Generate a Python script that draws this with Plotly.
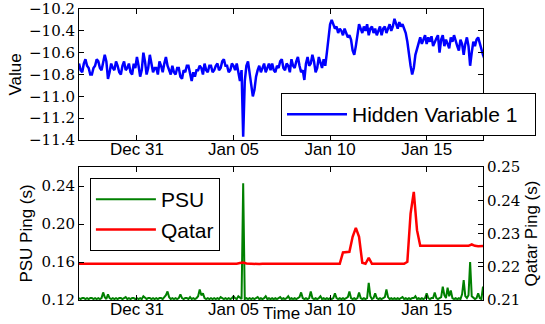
import pandas as pd
import plotly.graph_objects as go

# Hidden variable, two-hourly from Dec 28 00:00 (12 samples per day)
hidden_var_1 = [
    -10.70, -10.76, -10.78, -10.70, -10.66, -10.72, -10.74, -10.80, -10.80, -10.74, -10.72, -10.66,  # Dec 28
    -10.68, -10.74, -10.76, -10.70, -10.62, -10.68, -10.84, -10.78, -10.70, -10.74, -10.76, -10.68,  # Dec 29
    -10.72, -10.78, -10.80, -10.72, -10.68, -10.76, -10.74, -10.70, -10.78, -10.80, -10.70, -10.74,  # Dec 30
    -10.64, -10.72, -10.82, -10.76, -10.60, -10.68, -10.80, -10.74, -10.62, -10.70, -10.78, -10.74,  # Dec 31
    -10.74, -10.80, -10.68, -10.72, -10.78, -10.70, -10.64, -10.72, -10.76, -10.80, -10.72, -10.78,  # Jan 01
    -10.80, -10.74, -10.74, -10.82, -10.84, -10.76, -10.78, -10.72, -10.72, -10.80, -10.86, -10.78,  # Jan 02
    -10.82, -10.76, -10.76, -10.72, -10.74, -10.80, -10.70, -10.76, -10.78, -10.72, -10.72, -10.78,  # Jan 03
    -10.76, -10.72, -10.70, -10.76, -10.74, -10.68, -10.66, -10.72, -10.72, -10.78, -10.76, -10.70,  # Jan 04
    -10.72, -10.76, -10.70, -10.78, -10.86, -10.76, -11.37, -10.86, -10.72, -10.68, -10.78, -10.90,  # Jan 05
    -11.00, -10.94, -10.82, -10.76, -10.72, -10.78, -10.74, -10.70, -10.78, -10.74, -10.70, -10.76,  # Jan 06
    -10.70, -10.76, -10.78, -10.72, -10.74, -10.68, -10.66, -10.74, -10.76, -10.70, -10.72, -10.78,  # Jan 07
    -10.66, -10.72, -10.74, -10.68, -10.64, -10.72, -10.78, -10.76, -10.85, -10.70, -10.64, -10.72,  # Jan 08
    -10.70, -10.62, -10.68, -10.78, -10.74, -10.64, -10.70, -10.74, -10.66, -10.72, -10.60, -10.45,  # Jan 09
    -10.34, -10.30, -10.34, -10.38, -10.36, -10.42, -10.38, -10.40, -10.44, -10.38, -10.42, -10.46,  # Jan 10
    -10.44, -10.48, -10.58, -10.62, -10.54, -10.44, -10.34, -10.38, -10.42, -10.36, -10.40, -10.34,  # Jan 11
    -10.44, -10.38, -10.36, -10.42, -10.38, -10.44, -10.40, -10.36, -10.44, -10.38, -10.36, -10.42,  # Jan 12
    -10.38, -10.34, -10.40, -10.36, -10.29, -10.34, -10.38, -10.32, -10.36, -10.34, -10.38, -10.42,  # Jan 13
    -10.50, -10.62, -10.72, -10.80, -10.74, -10.62, -10.56, -10.50, -10.46, -10.52, -10.48, -10.44,  # Jan 14
    -10.52, -10.46, -10.50, -10.45, -10.54, -10.50, -10.47, -10.44, -10.60, -10.48, -10.44, -10.54,  # Jan 15
    -10.48, -10.52, -10.56, -10.46, -10.50, -10.44, -10.50, -10.54, -10.58, -10.48, -10.52, -10.62,  # Jan 16
    -10.52, -10.46, -10.54, -10.72, -10.60, -10.50, -10.54, -10.48, -10.46, -10.52, -10.56, -10.62,  # Jan 17
    -10.66,
]

# PSU round-trip time (s), two-hourly
psu_ping = [
    0.122, 0.121, 0.122, 0.122, 0.121, 0.122, 0.121, 0.122, 0.122, 0.121, 0.122, 0.121,  # Dec 28
    0.122, 0.121, 0.122, 0.128, 0.123, 0.121, 0.126, 0.122, 0.121, 0.122, 0.121, 0.122,  # Dec 29
    0.121, 0.122, 0.122, 0.121, 0.122, 0.123, 0.121, 0.122, 0.121, 0.122, 0.122, 0.121,  # Dec 30
    0.122, 0.121, 0.122, 0.121, 0.124, 0.122, 0.121, 0.122, 0.122, 0.121, 0.122, 0.121,  # Dec 31
    0.122, 0.121, 0.122, 0.122, 0.121, 0.123, 0.125, 0.129, 0.123, 0.121, 0.122, 0.121,  # Jan 01
    0.122, 0.121, 0.122, 0.126, 0.122, 0.121, 0.122, 0.122, 0.121, 0.123, 0.121, 0.122,  # Jan 02
    0.121, 0.122, 0.124, 0.131, 0.125, 0.127, 0.122, 0.121, 0.122, 0.121, 0.122, 0.121,  # Jan 03
    0.122, 0.121, 0.122, 0.121, 0.123, 0.122, 0.121, 0.122, 0.121, 0.122, 0.121, 0.122,  # Jan 04
    0.124, 0.122, 0.121, 0.124, 0.122, 0.121, 0.243, 0.121, 0.122, 0.121, 0.122, 0.121,  # Jan 05
    0.122, 0.121, 0.122, 0.123, 0.121, 0.122, 0.121, 0.122, 0.124, 0.121, 0.122, 0.121,  # Jan 06
    0.122, 0.121, 0.122, 0.121, 0.122, 0.123, 0.121, 0.122, 0.121, 0.122, 0.124, 0.121,  # Jan 07
    0.122, 0.121, 0.122, 0.121, 0.122, 0.123, 0.128, 0.122, 0.121, 0.122, 0.121, 0.122,  # Jan 08
    0.129, 0.122, 0.121, 0.122, 0.121, 0.122, 0.124, 0.121, 0.122, 0.121, 0.122, 0.121,  # Jan 09
    0.122, 0.121, 0.122, 0.127, 0.122, 0.121, 0.122, 0.121, 0.122, 0.121, 0.122, 0.123,  # Jan 10
    0.129, 0.122, 0.121, 0.122, 0.121, 0.122, 0.128, 0.122, 0.121, 0.122, 0.121, 0.122,  # Jan 11
    0.138, 0.124, 0.121, 0.122, 0.127, 0.122, 0.121, 0.122, 0.121, 0.122, 0.123, 0.131,  # Jan 12
    0.123, 0.121, 0.122, 0.121, 0.122, 0.121, 0.122, 0.121, 0.122, 0.123, 0.121, 0.122,  # Jan 13
    0.121, 0.122, 0.121, 0.122, 0.122, 0.124, 0.121, 0.122, 0.121, 0.122, 0.121, 0.122,  # Jan 14
    0.127, 0.122, 0.121, 0.122, 0.122, 0.128, 0.122, 0.121, 0.122, 0.123, 0.134, 0.125,  # Jan 15
    0.122, 0.133, 0.124, 0.130, 0.122, 0.121, 0.122, 0.121, 0.122, 0.121, 0.126, 0.141,  # Jan 16
    0.124, 0.122, 0.125, 0.160, 0.124, 0.122, 0.121, 0.122, 0.127, 0.122, 0.121, 0.134,  # Jan 17
    0.128,
]

# Qatar round-trip time (s), four-hourly (6 samples per day)
qatar_ping = [
    0.2209, 0.2208, 0.2209, 0.2209, 0.2208, 0.2209,  # Dec 28
    0.2209, 0.2209, 0.2208, 0.2209, 0.2209, 0.2209,  # Dec 29
    0.2208, 0.2209, 0.2209, 0.2209, 0.2208, 0.2209,  # Dec 30
    0.2209, 0.2209, 0.2208, 0.2209, 0.2209, 0.2210,  # Dec 31
    0.2209, 0.2209, 0.2208, 0.2209, 0.2209, 0.2209,  # Jan 01
    0.2209, 0.2208, 0.2209, 0.2209, 0.2209, 0.2208,  # Jan 02
    0.2209, 0.2209, 0.2209, 0.2208, 0.2209, 0.2209,  # Jan 03
    0.2209, 0.2208, 0.2209, 0.2209, 0.2209, 0.2209,  # Jan 04
    0.2209, 0.2209, 0.2211, 0.2213, 0.2210, 0.2209,  # Jan 05
    0.2209, 0.2209, 0.2208, 0.2209, 0.2209, 0.2209,  # Jan 06
    0.2209, 0.2208, 0.2209, 0.2209, 0.2209, 0.2209,  # Jan 07
    0.2208, 0.2209, 0.2209, 0.2209, 0.2208, 0.2209,  # Jan 08
    0.2209, 0.2209, 0.2208, 0.2209, 0.2209, 0.2209,  # Jan 09
    0.2209, 0.2209, 0.2208, 0.2209, 0.2243, 0.2243,  # Jan 10
    0.2245, 0.2290, 0.2317, 0.2290, 0.2212, 0.2209,  # Jan 11
    0.2227, 0.2209, 0.2209, 0.2208, 0.2209, 0.2209,  # Jan 12
    0.2209, 0.2209, 0.2208, 0.2209, 0.2209, 0.2209,  # Jan 13
    0.2215, 0.2360, 0.2425, 0.2310, 0.2263, 0.2263,  # Jan 14
    0.2262, 0.2263, 0.2263, 0.2263, 0.2262, 0.2263,  # Jan 15
    0.2263, 0.2263, 0.2262, 0.2263, 0.2263, 0.2263,  # Jan 16
    0.2263, 0.2263, 0.2267, 0.2263, 0.2262, 0.2263,  # Jan 17
    0.2263,
]

times_2h = pd.date_range("2013-12-28 00:00", periods=len(hidden_var_1), freq="2h")
times_psu = pd.date_range("2013-12-28 00:00", periods=len(psu_ping), freq="2h")
times_4h = pd.date_range("2013-12-28 00:00", periods=len(qatar_ping), freq="4h")

date_ticks = ["2013-12-31", "2014-01-05", "2014-01-10", "2014-01-15"]
date_labels = ["Dec 31", "Jan 05", "Jan 10", "Jan 15"]
value_ticks = [-11.4, -11.2, -11.0, -10.8, -10.6, -10.4, -10.2]
psu_ticks = [0.12, 0.16, 0.20, 0.24]
qatar_ticks = [0.21, 0.22, 0.23, 0.24, 0.25]
x_range = ["2013-12-28 00:00", "2014-01-17 22:00"]

SERIF = "DejaVu Serif"
SANS = "Liberation Sans, Arial, sans-serif"
NBSP = "\u00a0"


def num_label(v, fmt):
    s = format(abs(v), fmt)
    return ("\u2212" + s) if v < 0 else s


fig = go.Figure()

fig.add_trace(go.Scatter(
    x=times_2h, y=hidden_var_1, mode="lines", name="Hidden Variable 1" + NBSP * 2,
    line=dict(color="#0000ff", width=2.5), xaxis="x", yaxis="y", legend="legend",
))
fig.add_trace(go.Scatter(
    x=times_psu, y=psu_ping, mode="lines", name="PSU",
    line=dict(color="#008000", width=2), xaxis="x2", yaxis="y2", legend="legend2",
))
fig.add_trace(go.Scatter(
    x=times_4h, y=qatar_ping, mode="lines", name="Qatar",
    line=dict(color="#ff0000", width=2.5), xaxis="x2", yaxis="y3", legend="legend2",
))

axis_common = dict(
    showline=True, linecolor="black", linewidth=1,
    ticks="inside", ticklen=5, tickcolor="black", tickwidth=1,
    showgrid=False, zeroline=False, automargin=False,
)
x_common = dict(
    axis_common, type="date", range=x_range,
    tickvals=date_ticks, ticktext=date_labels, mirror="ticks",
    tickfont=dict(family=SANS, size=17, color="black"),
    ticklabelstandoff=-6,
)
y_common = dict(
    axis_common, ticklabeloverflow="allow",
    tickfont=dict(family=SERIF, size=15, color="black"),
)

# plot area spans y = 9..300 px; panels at 9..140 and 167..300
fig.update_layout(
    width=545, height=324,
    margin=dict(l=79, r=60, t=9, b=24),
    paper_bgcolor="white", plot_bgcolor="white",
    showlegend=True,
    xaxis=dict(x_common, anchor="y", domain=[0, 1]),
    yaxis=dict(
        y_common, domain=[0.5498, 1], anchor="x", mirror="ticks",
        range=[-11.4, -10.2], tickvals=value_ticks,
        ticktext=[num_label(v, ".1f") for v in value_ticks],
        title=dict(text="Value", font=dict(family=SANS, size=17, color="black"), standoff=3),
    ),
    xaxis2=dict(x_common, anchor="y2", domain=[0, 1]),
    yaxis2=dict(
        y_common, domain=[0, 0.4570], anchor="x2", mirror="ticks",
        range=[0.12, 0.26], tickvals=psu_ticks,
        ticktext=[num_label(v, ".2f") for v in psu_ticks],
        title=dict(text="PSU Ping (s)", font=dict(family=SANS, size=17, color="black"), standoff=4),
    ),
    yaxis3=dict(
        y_common, overlaying="y2", side="right", anchor="x2",
        range=[0.21, 0.25], tickvals=qatar_ticks,
        ticktext=[num_label(v, ".2f") for v in qatar_ticks],
        title=dict(text="Qatar Ping (s)", font=dict(family=SANS, size=17, color="black"), standoff=5),
    ),
    legend=dict(
        x=0.5, y=0.7113, xanchor="left", yanchor="top",
        bordercolor="black", borderwidth=1, bgcolor="white",
        font=dict(family=SANS, size=21, color="black"),
        itemwidth=60,
    ),
    legend2=dict(
        x=0.027, y=0.4192, xanchor="left", yanchor="top",
        bordercolor="black", borderwidth=1, bgcolor="white",
        font=dict(family=SANS, size=21, color="black"),
        itemwidth=60,
    ),
    annotations=[dict(
        text="Time", xref="paper", yref="paper", x=0.5, y=0, yshift=-13,
        xanchor="center", yanchor="middle", showarrow=False,
        font=dict(family=SANS, size=17, color="black"),
    )],
)

fig.write_html("out.html")
